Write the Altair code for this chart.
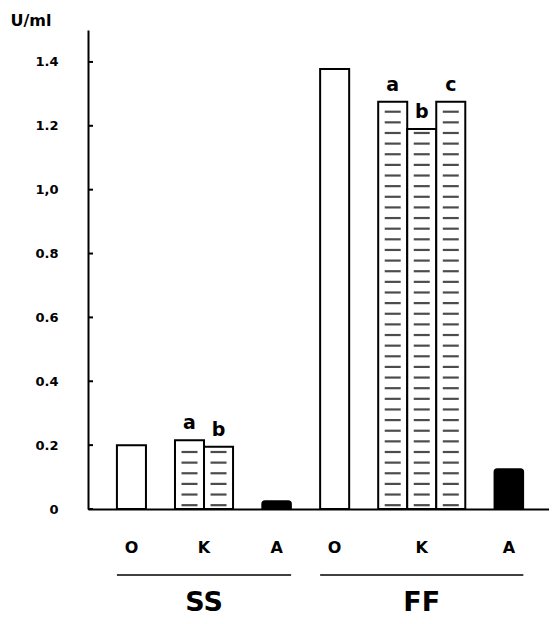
import altair as alt
import pandas as pd

# ---- data ----
slots = ["SS-O", "gap1", "SS-a", "SS-b", "gap2", "SS-A", "gap3",
         "FF-O", "gap4", "FF-a", "FF-b", "FF-c", "gap5", "FF-A"]
bar_keys = ["SS-O", "SS-a", "SS-b", "SS-A", "FF-O", "FF-a", "FF-b", "FF-c", "FF-A"]
bar_values = [0.200, 0.215, 0.195, 0.025, 1.378, 1.275, 1.190, 1.275, 0.125]
bar_letters = ["", "a", "b", "", "", "a", "b", "c", ""]
bar_styles = ["open", "hatch", "hatch", "solid", "open", "hatch", "hatch", "hatch", "solid"]

y_ticks = [0, 0.2, 0.4, 0.6, 0.8, 1.0, 1.2, 1.4]
y_tick_labels = ["0", "0.2", "0.4", "0.6", "0.8", "1,0", "1.2", "1.4"]

cat_labels = ["O", "K", "A", "O", "K", "A"]
cat_label_keys = ["SS-O", "SS-a", "SS-A", "FF-O", "FF-b", "FF-A"]
cat_label_edge = [False, True, False, False, False, False]

group_labels = ["SS", "FF"]
group_label_keys = ["SS-a", "FF-b"]
group_label_edge = [True, False]
group_start = ["SS-O", "FF-O"]
group_end = ["SS-A", "FF-A"]

FONT = "DejaVu Sans"

bars = pd.DataFrame({"key": bar_keys, "value": bar_values,
                     "letter": bar_letters, "style": bar_styles})
ticks_df = pd.DataFrame({"v": y_ticks})
cats = pd.DataFrame({"key": cat_label_keys, "label": cat_labels, "edge": cat_label_edge})
groups = pd.DataFrame({"key": group_label_keys, "label": group_labels,
                       "edge": group_label_edge, "start": group_start, "end": group_end})

label_expr = " : ".join(
    f"abs(datum.value - {v}) < 1e-6 ? '{l}'" for v, l in zip(y_ticks, y_tick_labels)
) + " : ''"

xscale = alt.Scale(domain=slots, paddingInner=0, paddingOuter=0.94, align=0.53)
yscale = alt.Scale(domain=[0, 1.5], nice=False)

xaxis = alt.Axis(labels=False, ticks=False, title=None, grid=False,
                 domainColor="black", domainWidth=2)
yaxis = alt.Axis(values=y_ticks, labelExpr=label_expr, ticks=False,
                 grid=False, domainColor="black", domainWidth=2,
                 labelPadding=30, labelFont=FONT, labelFontSize=13,
                 labelFontWeight="bold", labelColor="black",
                 title="U/ml", titleAngle=0, titleAlign="left",
                 titleBaseline="middle", titleX=-78, titleY=-10,
                 titleFont=FONT, titleFontSize=16, titleFontWeight="bold",
                 titleColor="black")


def X(field, **kw):
    return alt.X(field, scale=xscale, axis=xaxis, title=None, **kw)


def Y(field):
    return alt.Y(field, scale=yscale, axis=yaxis, title="U/ml")


base = alt.Chart(bars)

open_bars = base.transform_filter("datum.style != 'solid'").mark_bar(
    fill="white", stroke="black", strokeWidth=2
).encode(x=X("key:N"), y=Y("value:Q"))

solid_bars = base.transform_filter("datum.style == 'solid'").mark_bar(
    fill="black", stroke="black", strokeWidth=1.5, cornerRadiusTopLeft=3,
    cornerRadiusTopRight=3
).encode(x=X("key:N"), y=Y("value:Q"))

hatch = base.transform_filter("datum.style == 'hatch'").transform_calculate(
    hy="sequence(0.012, datum.value - 0.012, 0.0333)"
).transform_flatten(["hy"]).mark_tick(
    orient="horizontal", color="black", size=16, thickness=2.2
).encode(x=X("key:N"), y=Y("hy:Q"))

letters = base.transform_filter("datum.letter != ''").mark_text(
    baseline="bottom", dy=-7, font=FONT, fontSize=19, fontWeight="bold", color="black"
).encode(x=X("key:N"), y=Y("value:Q"), text="letter:N")

yticks = alt.Chart(ticks_df).mark_rule(color="black", strokeWidth=2).encode(
    y=Y("v:Q"), x=alt.value(0), x2=alt.value(5))

cat_center = alt.Chart(cats).transform_filter("!datum.edge").mark_text(
    font=FONT, fontSize=16, fontWeight="bold", color="black", baseline="middle"
).encode(x=X("key:N"), y=alt.value(518), text="label:N")

cat_edge = alt.Chart(cats).transform_filter("datum.edge").mark_text(
    font=FONT, fontSize=16, fontWeight="bold", color="black", baseline="middle"
).encode(x=X("key:N", bandPosition=1), y=alt.value(518), text="label:N")

underline = alt.Chart(groups).mark_rule(color="black", strokeWidth=1.5).encode(
    x=X("start:N", bandPosition=0),
    x2=alt.X2("end:N", bandPosition=1),
    y=alt.value(545))

grp_center = alt.Chart(groups).transform_filter("!datum.edge").mark_text(
    font=FONT, fontSize=27, fontWeight="bold", color="black", baseline="middle"
).encode(x=X("key:N"), y=alt.value(573), text="label:N")

grp_edge = alt.Chart(groups).transform_filter("datum.edge").mark_text(
    font=FONT, fontSize=27, fontWeight="bold", color="black", baseline="middle"
).encode(x=X("key:N", bandPosition=1), y=alt.value(573), text="label:N")

chart = alt.layer(
    open_bars, hatch, solid_bars, letters, yticks,
    cat_center, cat_edge, underline, grp_center, grp_edge
).properties(
    width=461, height=479,
    autosize=alt.AutoSizeParams(type="none"),
    padding={"left": 80, "top": 22, "right": 0, "bottom": 110},
    background="white",
).configure_view(stroke=None)

chart.save("out.html", embed_options={"renderer": "svg", "actions": False})
